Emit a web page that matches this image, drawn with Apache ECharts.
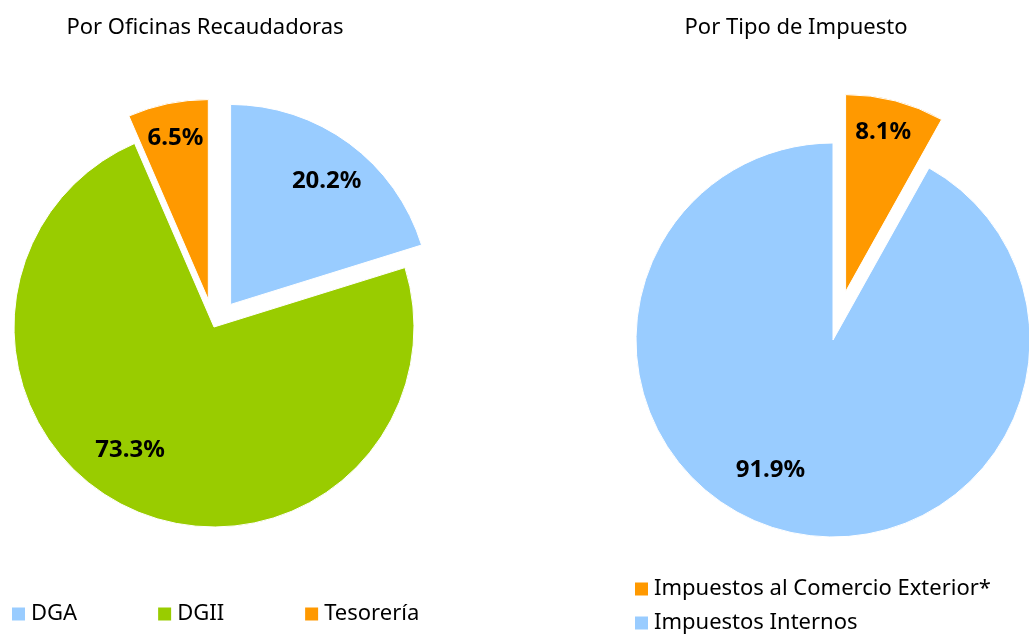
<!DOCTYPE html>
<html>
<head>
<meta charset="utf-8">
<script src="https://cdn.jsdelivr.net/npm/echarts@6/dist/echarts.min.js"></script>
<style>
  html, body { margin: 0; padding: 0; background: #fff; }
  #main { width: 1029px; height: 634px; }
</style>
</head>
<body>
<div id="main"></div>
<script>
// datos
var oficinas = ['DGA', 'DGII', 'Tesorería'];
var oficinasPct = [20.2, 73.3, 6.5];
var oficinasExplode = [true, false, true];

var tipos = ['Impuestos al Comercio Exterior*', 'Impuestos Internos'];
var tiposPct = [8.1, 91.9];
var tiposExplode = [true, false];

var colOficinas = ['#99CCFF', '#99CC00', '#FF9900'];
var colTipos = ['#FF9900', '#99CCFF'];

// ajuste de etiquetas (estilo "best fit" de Excel)
var shiftOficinas = [[35, -40], [-41, 30], [-12, -61]];
var shiftTipos = [[12, -61], [-37, 32]];

var FONT = '"Noto Sans", "Open Sans", sans-serif';

function buildData(names, vals, explode, colors) {
  return names.map(function (n, i) {
    return { name: n, value: vals[i], selected: explode[i], itemStyle: { color: colors[i] } };
  });
}

var myChart = echarts.init(document.getElementById('main'));

var option = {
  animation: false,
  title: [
    { text: 'Por Oficinas Recaudadoras', left: 200, top: 12, textAlign: 'center',
      textStyle: { fontFamily: FONT, fontSize: 22, fontWeight: 'normal', color: '#000' } },
    { text: 'Por Tipo de Impuesto', left: 791, top: 12, textAlign: 'center',
      textStyle: { fontFamily: FONT, fontSize: 22, fontWeight: 'normal', color: '#000' } }
  ],
  legend: [
    {
      data: oficinas, left: 10, top: 603, orient: 'horizontal', padding: 0,
      icon: 'rect', itemWidth: 15, itemHeight: 15, itemGap: 79,
      selectedMode: false,
      textStyle: { fontFamily: FONT, fontSize: 22, color: '#000' }
    },
    {
      data: tipos, left: 633, top: 578, orient: 'vertical', padding: 0,
      height: 120,
      icon: 'rect', itemWidth: 15, itemHeight: 15, itemGap: 12,
      selectedMode: false,
      textStyle: { fontFamily: FONT, fontSize: 22, color: '#000' }
    }
  ],
  series: [
    {
      name: 'Por Oficinas Recaudadoras',
      type: 'pie',
      center: [214, 327],
      radius: 200,
      startAngle: 90,
      clockwise: true,
      selectedMode: 'multiple',
      selectedOffset: 28,
      silent: true,
      itemStyle: { borderColor: '#fff', borderWidth: 1 },
      label: {
        show: true, position: 'inside',
        formatter: function (p) { return p.value.toFixed(1) + '%'; },
        fontFamily: FONT, fontSize: 24, fontWeight: 'bold', color: '#000'
      },
      labelLayout: function (p) {
        var s = shiftOficinas[p.dataIndex];
        return { dx: s[0], dy: s[1] };
      },
      labelLine: { show: false },
      emphasis: { disabled: true },
      data: buildData(oficinas, oficinasPct, oficinasExplode, colOficinas)
    },
    {
      name: 'Por Tipo de Impuesto',
      type: 'pie',
      center: [833, 340],
      radius: 197,
      startAngle: 90,
      clockwise: true,
      selectedMode: 'multiple',
      selectedOffset: 50,
      silent: true,
      itemStyle: { borderColor: '#fff', borderWidth: 1 },
      label: {
        show: true, position: 'inside',
        formatter: function (p) { return p.value.toFixed(1) + '%'; },
        fontFamily: FONT, fontSize: 24, fontWeight: 'bold', color: '#000'
      },
      labelLayout: function (p) {
        var s = shiftTipos[p.dataIndex];
        return { dx: s[0], dy: s[1] };
      },
      labelLine: { show: false },
      emphasis: { disabled: true },
      data: buildData(tipos, tiposPct, tiposExplode, colTipos)
    }
  ]
};

myChart.setOption(option);
</script>
</body>
</html>
